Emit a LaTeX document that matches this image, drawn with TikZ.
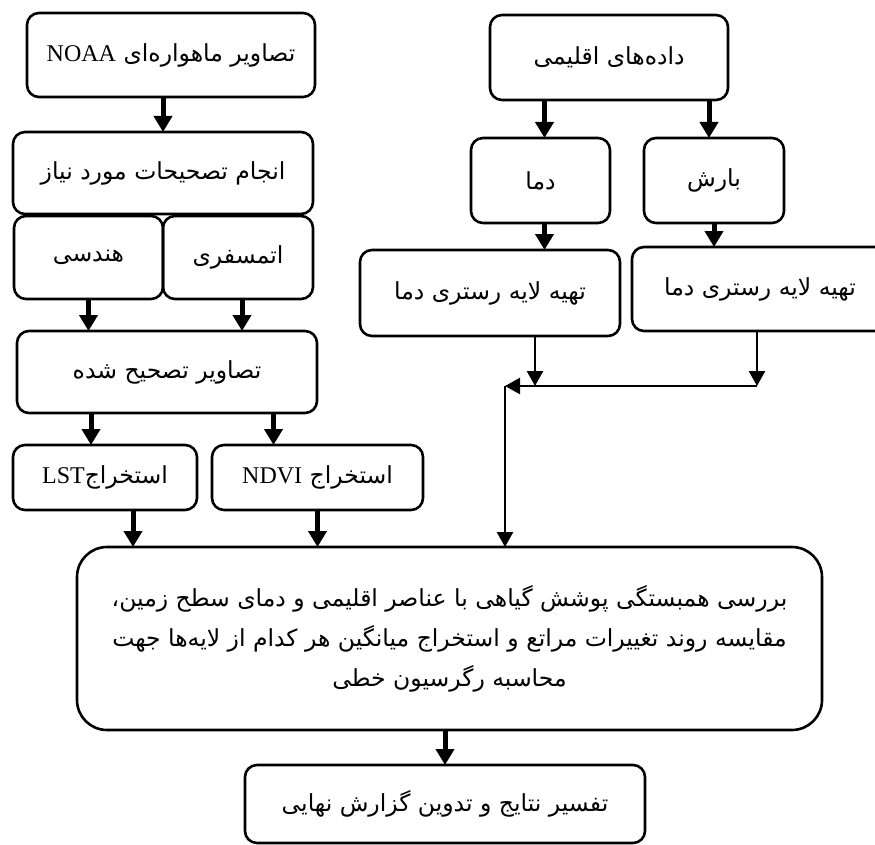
\documentclass[tikz,border=0pt]{standalone}
\usepackage{fontspec}
\setmainfont{Liberation Serif}
\newfontfamily\persianfont[Script=Arabic]{DejaVu Sans}
\TeXXeTstate=1
\usepackage{tikz}
\usetikzlibrary{arrows.meta,positioning}
\newcommand{\fatext}[1]{{\persianfont\beginR #1\endR}}
\newcommand{\latin}[1]{\beginL{\rmfamily\fontsize{24}{28}\selectfont #1}\endL}
\tikzstyle{stage} = [draw, line width=2.6pt, rounded corners=12pt, text centered, inner sep=0pt, outer sep=0pt, font=\fontsize{23.5}{28}\selectfont]
\tikzstyle{bigstage} = [stage, rounded corners=30pt, align=center, font=\fontsize{23.5}{40}\selectfont]
\tikzstyle{tedge}  = [draw, line width=5pt, -{Triangle[width=18pt,length=16pt]}]
\tikzstyle{thinedge}  = [draw, line width=2.4pt, -{Triangle[width=16pt,length=15pt]}]

\begin{document}
\begin{tikzpicture}[x=1pt, y=-1pt]
\useasboundingbox (0,0) rectangle (875,845);
\fill[white] (0,0) rectangle (875,845);

% satellite branch =============================
\node[stage, minimum width=288pt, minimum height=84pt] (noaa) at (171,55) {\fatext{تصاویر ماهواره‌ای \latin{NOAA}}};
\node[stage, minimum width=300pt, minimum height=82pt] (fix) at (163,173) {\fatext{انجام تصحیحات مورد نیاز}};
\node[stage, minimum width=149pt, minimum height=83pt] (hendesi) at (88.5,257.5) {\fatext{هندسی}};
\node[stage, minimum width=150pt, minimum height=83pt, right=0pt of hendesi] (atmos) {\fatext{اتمسفری}};
\node[stage, minimum width=300pt, minimum height=82pt] (corrected) at (167,372) {\fatext{تصاویر تصحیح شده}};
\node[stage, minimum width=184pt, minimum height=65pt] (lst) at (105,477.5) {\fatext{استخراج\latin{LST}}};
\node[stage, minimum width=211pt, minimum height=65pt] (ndvi) at (317.5,477.5) {\fatext{استخراج \latin{NDVI}}};

% climate branch =============================
\node[stage, minimum width=238pt, minimum height=85pt] (climate) at (609,57.5) {\fatext{داده‌های اقلیمی}};
\node[stage, minimum width=139pt, minimum height=85pt] (dama) at (540.5,180.5) {\fatext{دما}};
\node[stage, minimum width=140pt, minimum height=85pt] (barsh) at (714,180.5) {\fatext{بارش}};
\node[stage, minimum width=260pt, minimum height=86pt] (rasterL) at (490,293) {\fatext{تهیه لایه رستری دما}};
\node[stage, minimum width=256pt, minimum height=84pt] (rasterR) at (760,289) {\fatext{تهیه لایه رستری دما}};

% analysis =============================
\node[bigstage, minimum width=745pt, minimum height=183pt] (main) at (449.5,638.5) {\fatext{بررسی همبستگی پوشش گیاهی با عناصر اقلیمی و دمای سطح زمین،}\\\fatext{مقایسه روند تغییرات مراتع و استخراج میانگین هر کدام از لایه‌ها جهت}\\\fatext{محاسبه رگرسیون خطی}};
\node[stage, minimum width=400pt, minimum height=78pt] (final) at (445,804) {\fatext{تفسیر نتایج و تدوین گزارش نهایی}};

\coordinate (joinL) at (535,386);
\coordinate (joinR) at (757,386);
\coordinate (join) at (505,386);

% edges
\path[tedge] (fix.north |- noaa.south) -- (fix.north);
\path[tedge] (hendesi.south) -- (hendesi.south |- corrected.north);
\path[tedge] ([xshift=4pt]atmos.south) -- ([xshift=4pt]atmos.south |- corrected.north);
\path[tedge] ([xshift=-14pt]lst.north |- corrected.south) -- ([xshift=-14pt]lst.north);
\path[tedge] ([xshift=-44pt]ndvi.north |- corrected.south) -- ([xshift=-44pt]ndvi.north);
\path[tedge] ([xshift=28pt]lst.south) -- ([xshift=28pt]lst.south |- main.north);
\path[tedge] (ndvi.south) -- (ndvi.south |- main.north);
\path[tedge] ([xshift=4pt]dama.north |- climate.south) -- ([xshift=4pt]dama.north);
\path[tedge] ([xshift=-5pt]barsh.north |- climate.south) -- ([xshift=-5pt]barsh.north);
\path[tedge] ([xshift=4pt]dama.south) -- ([xshift=4pt]dama.south |- rasterL.north);
\path[tedge] (barsh.south) -- (barsh.south |- rasterR.north);
\path[thinedge] ([xshift=45pt]rasterL.south) -- (joinL);
\path[thinedge] ([xshift=-3pt]rasterR.south) -- (joinR);
\path[thinedge] (joinR) -- (join);
\path[thinedge] (join) -- (join |- main.north);
\path[tedge] (final.north |- main.south) -- (final.north);

\end{tikzpicture}
\end{document}
